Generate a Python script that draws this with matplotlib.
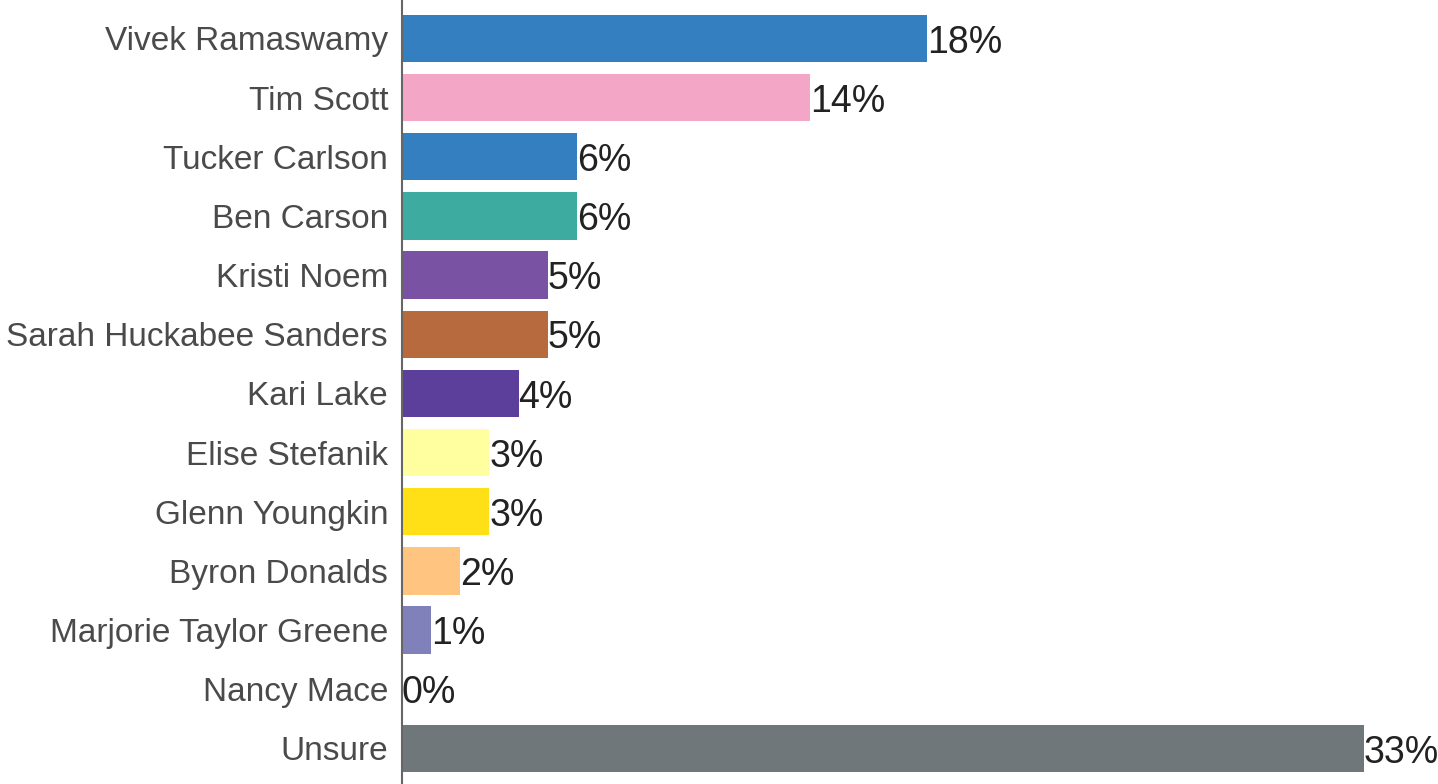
import matplotlib
matplotlib.use("Agg")
import matplotlib.pyplot as plt

plt.rcParams['font.family'] = ['Liberation Sans', 'DejaVu Sans']

names = ["Vivek Ramaswamy", "Tim Scott", "Tucker Carlson", "Ben Carson", "Kristi Noem",
         "Sarah Huckabee Sanders", "Kari Lake", "Elise Stefanik", "Glenn Youngkin",
         "Byron Donalds", "Marjorie Taylor Greene", "Nancy Mace", "Unsure"]
values = [18, 14, 6, 6, 5, 5, 4, 3, 3, 2, 1, 0, 33]
colors = ["#337fbf", "#f4a6c6", "#337fbf", "#3dab9f", "#7a52a4", "#b76a3d", "#5b3f9a",
          "#ffff9f", "#ffe017", "#ffc580", "#8080bb", "#8080bb", "#6f777a"]

fig = plt.figure(figsize=(14.38, 7.84), dpi=100)
ax = fig.add_axes([402 / 1438, 0, (1364 - 402) / 1438, 1])

pos = list(range(len(names)))
bars = ax.barh(pos, values, height=0.8, color=colors)
for b, v in zip(bars, values):
    ax.text(b.get_width(), b.get_y() + b.get_height() / 2 + 0.07, f"{v}%",
            va="center", ha="left", fontsize=27, color="#222222")

ax.set_yticks(pos)
ax.set_yticklabels(names, fontsize=24, color="#4a4a4a")
ax.set_xlim(0, 33)
ax.set_ylim(12.6, -0.65)
ax.set_xticks([])
ax.tick_params(axis="y", length=0, pad=10)
for s in ["top", "right", "bottom"]:
    ax.spines[s].set_visible(False)
ax.spines["left"].set_color("#666666")
ax.spines["left"].set_linewidth(1.5)

fig.savefig("out.png", dpi=100)
